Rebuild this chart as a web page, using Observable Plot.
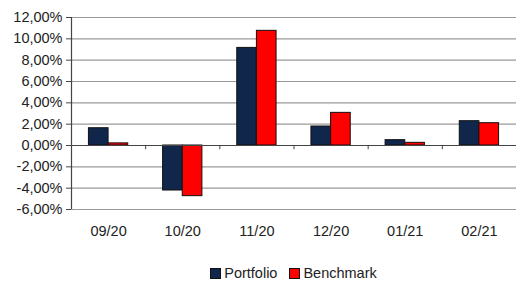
<!DOCTYPE html>
<html>
<head>
<meta charset="utf-8">
<script src="https://cdn.jsdelivr.net/npm/d3@7"></script>
<script src="https://cdn.jsdelivr.net/npm/@observablehq/plot@0.6"></script>
<style>
  html, body { margin: 0; padding: 0; background: #fff; }
  body { width: 516px; height: 281px; overflow: hidden; font-family: "Liberation Sans", Arial, sans-serif; }
  #legend { display: flex; justify-content: center; align-items: center; padding-left: 71px; height: 20px; margin-top: 5px; font-size: 14.5px; color: #222; }
  .item { display: flex; align-items: center; margin: 0 6px; }
  .sw { width: 9px; height: 9px; border: 1px solid #111; margin-right: 3px; }
</style>
</head>
<body>
<div id="chart"></div>
<div id="legend"></div>
<script>
const months = ["09/20", "10/20", "11/20", "12/20", "01/21", "02/21"];
const seriesNames = ["Portfolio", "Benchmark"];
const portfolio = [1.62, -4.22, 9.15, 1.78, 0.5, 2.28];
const benchmark = [0.2, -4.75, 10.75, 3.06, 0.25, 2.09];
const yTicks = [-6, -4, -2, 0, 2, 4, 6, 8, 10, 12];
const colors = ["#10264a", "#ff0000"];

const barW = 0.265;
const rows = [];
months.forEach((m, i) => {
  rows.push({month: m, series: "Portfolio", value: portfolio[i], x1: i + 0.5 - barW, x2: i + 0.5});
  rows.push({month: m, series: "Benchmark", value: benchmark[i], x1: i + 0.5, x2: i + 0.5 + barW});
});
const boundaries = months.slice(1).map((m, i) => i + 1);
const centers = months.map((m, i) => i + 0.5);
const fmt = d => d.toFixed(2).replace(".", ",") + "%";

const chart = Plot.plot({
  width: 516,
  height: 258,
  marginLeft: 71,
  marginRight: 0,
  marginTop: 17,
  marginBottom: 49,
  style: {fontFamily: "'Liberation Sans', Arial, sans-serif", fontSize: "14.5px", color: "#222", background: "#fff"},
  x: {domain: [0, months.length], axis: null},
  y: {domain: [-6, 12], axis: null},
  color: {domain: seriesNames, range: colors},
  marks: [
    Plot.ruleY(yTicks.filter(d => d !== 0), {stroke: "#9a9a9a", strokeWidth: 1.2, strokeOpacity: 1}),
    Plot.rectY(rows, {x1: "x1", x2: "x2", y1: 0, y2: "value", fill: "series", stroke: "#111", strokeWidth: 1}),
    Plot.ruleY([0], {stroke: "#444", strokeWidth: 1.2}),
    Plot.ruleX(boundaries, {y1: 0, y2: -0.4, stroke: "#444"}),
    Plot.ruleX([0], {stroke: "#444", strokeWidth: 1.2}),
    Plot.axisY({ticks: yTicks, tickFormat: fmt, tickSize: 5, tickPadding: 4, stroke: "#444", fill: "#222", label: null}),
    Plot.axisX({ticks: centers, tickFormat: d => months[Math.floor(d)], tickSize: 0, tickPadding: 16, fill: "#222", label: null})
  ]
});
document.getElementById("chart").appendChild(chart);

const legend = document.getElementById("legend");
seriesNames.forEach((s, i) => {
  const item = document.createElement("div");
  item.className = "item";
  const sw = document.createElement("div");
  sw.className = "sw";
  sw.style.background = colors[i];
  const t = document.createElement("span");
  t.textContent = s;
  item.appendChild(sw);
  item.appendChild(t);
  legend.appendChild(item);
});
</script>
</body>
</html>
